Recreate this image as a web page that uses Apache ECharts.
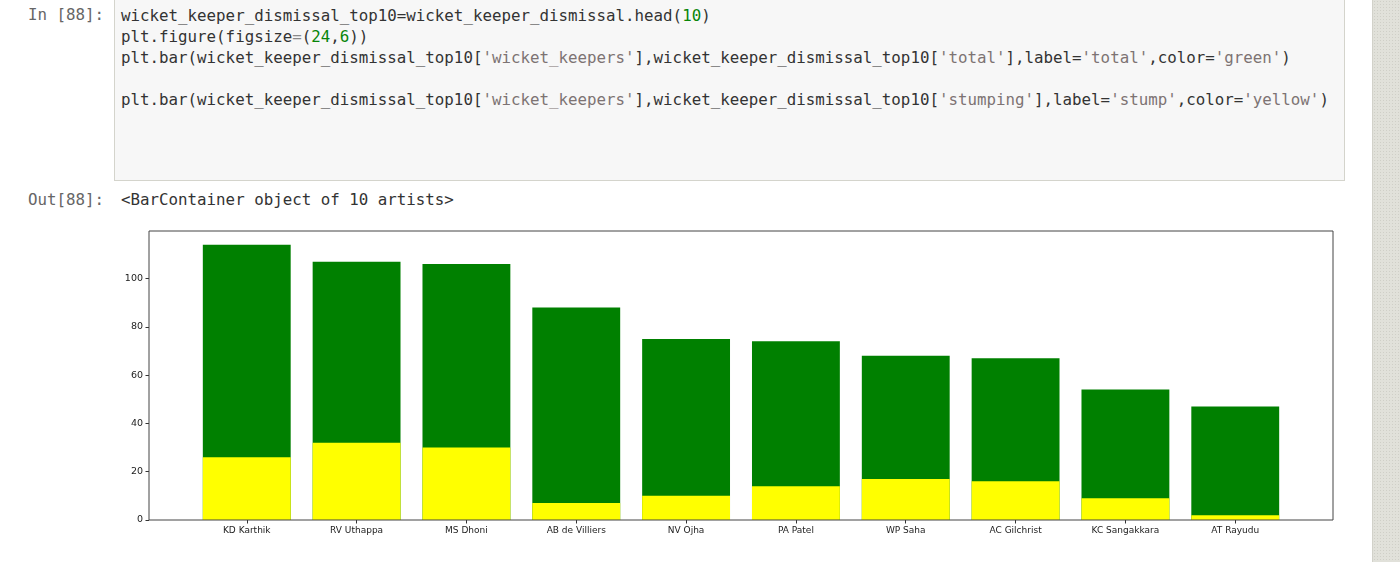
<!DOCTYPE html>
<html>
<head>
<meta charset="utf-8">
<script src="https://cdn.jsdelivr.net/npm/echarts@6/dist/echarts.min.js"></script>
<style>
  html, body { margin:0; padding:0; background:#fff; }
  #page { position:relative; width:1400px; height:562px; overflow:hidden; background:#fff; }
  #chart { position:absolute; left:0; top:0; width:1400px; height:562px; }
  .mono { font-family:"DejaVu Sans Mono", "Liberation Mono", monospace; font-size:15.8px; white-space:pre; }
  .prompt { position:absolute; color:#666; width:104px; text-align:right; left:0; }
  #cell { position:absolute; left:114px; top:-2px; width:1231px; height:183px; background:#f7f7f7; border:1px solid #d4d4cc; box-sizing:border-box; }
  #code { position:absolute; left:121px; top:5px; color:#333; line-height:21px; }
  .s { color:#7d7373; } .n { color:#088508; } .o { color:#8a8a8a; }
  #out { position:absolute; left:121px; top:190px; color:#333; }
  #strip { position:absolute; left:1372px; top:0; width:28px; height:562px; background:#e1e1da; border-left:1px solid #d2d2ca;
           background-image: radial-gradient(#cfcfc7 0.6px, transparent 0.7px); background-size:3px 3px; }
</style>
</head>
<body>
<div id="page">
  <div id="cell"></div>
  <div class="prompt mono" style="top:5px;">In [88]:</div>
  <div id="code" class="mono">wicket_keeper_dismissal_top10=wicket_keeper_dismissal.head(<span class="n">10</span>)
plt.figure(figsize<span class="o">=</span>(<span class="n">24</span>,<span class="n">6</span>))
plt.bar(wicket_keeper_dismissal_top10[<span class="s">'wicket_keepers'</span>],wicket_keeper_dismissal_top10[<span class="s">'total'</span>],label=<span class="s">'total'</span>,color=<span class="s">'green'</span>)

plt.bar(wicket_keeper_dismissal_top10[<span class="s">'wicket_keepers'</span>],wicket_keeper_dismissal_top10[<span class="s">'stumping'</span>],label=<span class="s">'stump'</span>,color=<span class="s">'yellow'</span>)</div>
  <div class="prompt mono" style="top:190px;">Out[88]:</div>
  <div id="out" class="mono">&lt;BarContainer object of 10 artists&gt;</div>
  <div id="strip"></div>
  <div id="chart"></div>
</div>
<script>
const keepers = ['KD Karthik','RV Uthappa','MS Dhoni','AB de Villiers','NV Ojha','PA Patel','WP Saha','AC Gilchrist','KC Sangakkara','AT Rayudu'];
const total = [114,107,106,88,75,74,68,67,54,47];
const stumping = [26,32,30,7,10,14,17,16,9,2];
const yTicks = [0,20,40,60,80,100];

// frame (matplotlib axes box) in page pixels
const frameL = 149, frameT = 231, frameW = 1184, frameH = 289;
const n = keepers.length;
// matplotlib x-limits: bars of width 0.8 plus 5% margins
const span = (n - 1) + 0.8;
const xLo = -0.4 - 0.05 * span, xHi = (n - 1) + 0.4 + 0.05 * span;
const ppu = frameW / (xHi - xLo);
const bandL = frameL + (-0.5 - xLo) * ppu;
const bandW = n * ppu;
const yMax = Math.max(...total) * 1.05;

const chart = echarts.init(document.getElementById('chart'), null, {renderer:'canvas'});
const labelFont = '"DejaVu Sans", sans-serif';
chart.setOption({
  animation: false,
  backgroundColor: 'transparent',
  grid: [
    { left: frameL, top: frameT, width: frameW, height: frameH, show: true, z: 10,
      backgroundColor: 'transparent', borderColor: '#444', borderWidth: 1 },
    { left: bandL, top: frameT, width: bandW, height: frameH }
  ],
  xAxis: [
    { gridIndex: 0, type: 'value', show: false, min: 0, max: 1 },
    { gridIndex: 1, type: 'category', data: keepers,
      axisLine: { show: false },
      axisTick: { show: true, alignWithLabel: true, length: 3.5, lineStyle: { color: '#333' } },
      axisLabel: { color: '#222', fontSize: 9, fontFamily: labelFont, margin: 6, interval: 0 } }
  ],
  yAxis: [
    { gridIndex: 0, type: 'value', show: false, min: 0, max: 1 },
    { gridIndex: 1, type: 'value', min: 0, max: yMax, interval: 20,
      offset: bandL - frameL,
      axisLine: { show: false },
      splitLine: { show: false },
      axisTick: { show: true, length: 3.5, lineStyle: { color: '#333' }, customValues: yTicks },
      axisLabel: { color: '#222', fontSize: 9.5, fontFamily: labelFont, margin: 6, customValues: yTicks } }
  ],
  series: [
    { name: 'total', type: 'bar', xAxisIndex: 1, yAxisIndex: 1, data: total,
      barWidth: '80%', barGap: '-100%', itemStyle: { color: '#008000' } },
    { name: 'stump', type: 'bar', xAxisIndex: 1, yAxisIndex: 1, data: stumping,
      barWidth: '80%', barGap: '-100%', itemStyle: { color: '#ffff00' } }
  ]
});
</script>
</body>
</html>
